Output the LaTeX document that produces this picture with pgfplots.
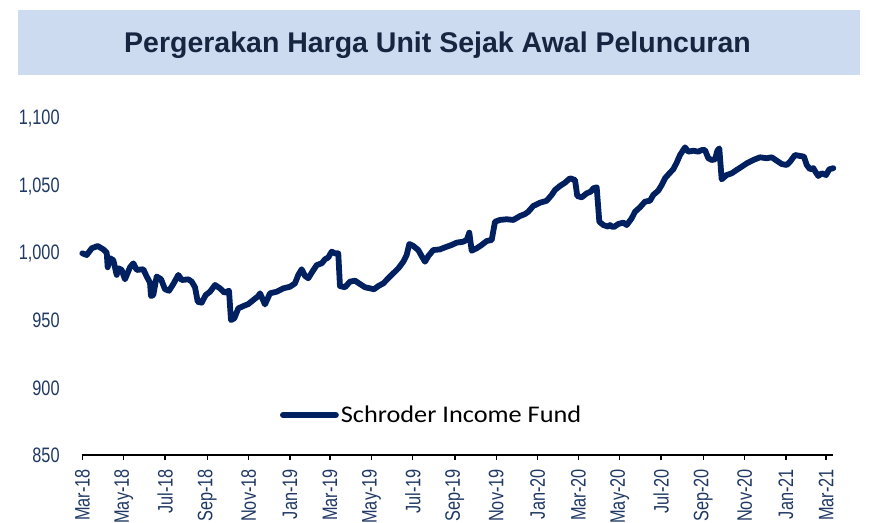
\documentclass[border=0pt]{standalone}
\usepackage{pgfplots}
\pgfplotsset{compat=1.18}
\usepackage{fontspec}
\setmainfont{Liberation Sans}
\newfontfamily\narrowfont[FakeStretch=0.78]{Liberation Sans}
\newfontfamily\carlito[FakeStretch=1.1]{Carlito}
\definecolor{navy}{HTML}{002060}
\definecolor{ticktext}{HTML}{1F3864}
\definecolor{titlebg}{RGB}{205,219,241}
\definecolor{titletext}{RGB}{23,38,64}
\begin{document}
\begin{tikzpicture}
\path[use as bounding box] (0,0) rectangle (871bp,523bp);
\fill[titlebg] (18bp,448bp) rectangle (860bp,513bp);
\node[anchor=base, inner sep=0pt, font=\fontsize{28.6}{30}\selectfont\bfseries, text=titletext] at (437.5bp,470.3bp) {Pergerakan Harga Unit Sejak Awal Peluncuran};
\begin{axis}[
  at={(82.3bp,68bp)}, anchor=south west,
  scale only axis, width=751bp, height=336bp,
  xmin=0, xmax=1106.7, ymin=850, ymax=1100,
  axis lines=left,
  axis line style={-, line width=1.3bp, black},
  y axis line style={draw=none},
  ytick={850,900,950,1000,1050,1100},
  yticklabels={850,900,950,{1,000},{1,050},{1,100}},
  ytick style={draw=none},
  xtick={0,61,122,184,245,306,365,426,487,549,610,671,731,792,853,915,976,1037,1096},
  xticklabels={Mar-18,May-18,Jul-18,Sep-18,Nov-18,Jan-19,Mar-19,May-19,Jul-19,Sep-19,Nov-19,Jan-20,Mar-20,May-20,Jul-20,Sep-20,Nov-20,Jan-21,Mar-21},
  xtick align=outside,
  major tick length=5bp,
  xtick style={line width=1.3bp, black},
  tick label style={font=\narrowfont\fontsize{21}{22}\selectfont, text=ticktext},
  yticklabel style={anchor=east, inner sep=0pt, xshift=-20bp},
  xticklabel style={rotate=90, anchor=east, inner sep=0pt, xshift=-9bp},
  legend style={draw=none, fill=none, at={(0.263,0.119)}, anchor=west,
    font=\carlito\fontsize{24}{25}\selectfont, inner sep=0pt,
    nodes={inner sep=2bp},
    legend cell align=left},
  legend image code/.code={\draw[#1] (0bp,0bp) -- (53bp,0bp);},
  clip=false,
]
\addplot[navy, line width=5.8bp, line join=round, line cap=round] coordinates {
(0,1000.1) (6.5,998.8) (13.9,1003.8) (22.7,1005.5) (30.9,1003) (36,1000.5)
(37.4,989.7) (40.8,996.4) (45.7,995) (50.7,984) (53,989) (58,987.7)
(62.9,980.7) (70.3,989.7) (75.2,992.6) (80.2,987.7) (89.9,988.2) (94.9,982.8)
(99.8,978.2) (101.2,968.3) (104.6,969) (109.6,982.8) (116,980.8) (121.9,973.3)
(127.8,972.2) (134.1,977.2) (141.5,984) (146.5,980.2) (156.2,980.7) (161.2,979)
(166.1,974.8) (170.1,964) (175.9,963.3) (181.8,969) (188.2,971.5) (195.6,976.5)
(202.9,974) (209.3,970.8) (216.2,972.2) (219.1,950.4) (224,951.7) (229.9,959.1)
(237.3,960.8) (244.6,962.3) (252,965.3) (259.4,968.3) (261.9,970.3) (269.2,962)
(276.6,970.3) (286.5,971.5) (296.2,974) (306.1,975.2) (313.4,977.7) (318.3,984)
(323.3,988.2) (328.2,983.2) (333,981.5) (338,985.6) (345.4,991.3) (352.8,992.6)
(357.6,995.6) (362.5,997) (367.5,1001.3) (372.4,1000) (377.2,1000) (379.7,975.7)
(387.1,974.8) (394.5,979) (401.9,979.7) (409.2,977.2) (416.6,974.8) (424,974)
(429.9,973.3) (436.2,975.7) (443.6,977.7) (450.9,981.5) (458.3,985.2) (465.7,988.9)
(473,993.8) (478,998.8) (481.9,1007) (487.8,1005.5) (495.1,1002.5) (500.1,998)
(505,993.8) (509.9,998) (517.2,1002.5) (527.1,1003) (534.5,1004.5) (544.3,1006.3)
(551.7,1008) (561.5,1008.7) (566.5,1010) (570.3,1015.4) (573.8,1002) (581.2,1003.8)
(588.6,1006.3) (595.9,1009.2) (603.3,1010) (608.2,1023.6) (615.5,1024.9) (625.4,1025.4)
(635.1,1024.9) (645,1027.8) (652.4,1029.3) (657.2,1031) (664.6,1035.3) (674.5,1037.7)
(684.4,1039.2) (691.7,1043.5) (696.6,1047.2) (704,1050.2) (711.3,1052.6) (718.7,1055.9)
(726.1,1054.6) (729.4,1042.7) (735.9,1041.7) (743.3,1044.7) (749.2,1045.9) (753,1048.4)
(758,1049.2) (761.9,1023.6) (767.8,1021.1) (775.1,1019.9) (777.6,1021.1) (782.5,1019.4)
(789.9,1021.9) (797.2,1022.9) (802.2,1021.1) (809.6,1026.1) (814.5,1031) (821.8,1034.3)
(829.2,1038.5) (836.6,1039.2) (841.4,1043.5) (848.8,1046.7) (853.8,1050.9) (858.7,1055.9)
(866.1,1060.1) (870.9,1062.6) (875.9,1067.5) (880.8,1073.2) (888.2,1078.9) (893,1075.7)
(900.4,1076.4) (907.8,1075.7) (912.8,1076.9) (917.6,1076.9) (922.5,1070.8) (927.5,1069.5)
(932.4,1070) (935.8,1076.4) (938.7,1078.2) (942.2,1055.1) (949.6,1058.3) (957,1059.6)
(964.3,1062.1) (971.7,1064.5) (979.1,1067) (988.8,1069.5) (998.7,1071.5) (1008.5,1070.8)
(1015.9,1071.5) (1023.3,1069) (1030.6,1066.5) (1038,1065.8) (1042.9,1068.2) (1050.3,1073.2)
(1057.6,1072.5) (1063.5,1072) (1067.5,1065.8) (1072.4,1062.6) (1077.2,1063.4) (1081.2,1060.1)
(1084.6,1057.6) (1089.6,1059.6) (1096,1058.3) (1100.8,1062.6) (1106.7,1063.4)
};
\addlegendentry{Schroder Income Fund}
\end{axis}
\end{tikzpicture}
\end{document}
